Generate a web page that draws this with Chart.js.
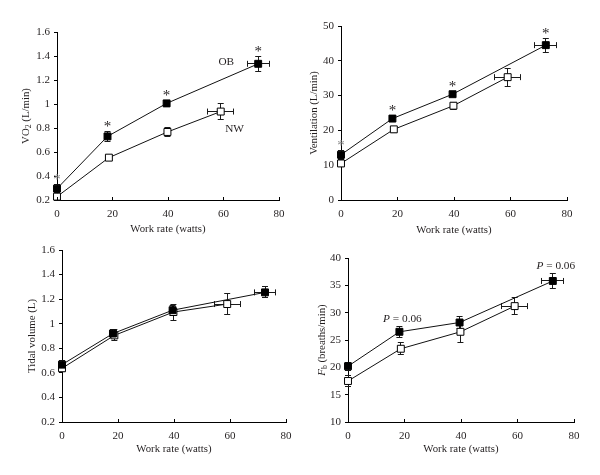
<!DOCTYPE html>
<html><head><meta charset="utf-8">
<script src="https://cdn.jsdelivr.net/npm/chart.js@4.4.0/dist/chart.umd.min.js"></script>
<style>
html,body{margin:0;padding:0;background:#fff;}
body{width:600px;height:475px;position:relative;overflow:hidden;}
canvas{position:absolute;display:block;}
</style></head><body>
<canvas id="c1" width="300" height="237" style="left:0;top:0"></canvas>
<canvas id="c2" width="300" height="237" style="left:300px;top:0"></canvas>
<canvas id="c3" width="300" height="238" style="left:0;top:237px"></canvas>
<canvas id="c4" width="300" height="238" style="left:300px;top:237px"></canvas>
<script>
// ---------------- data ----------------
const seriesNames = ['OB', 'NW'];
const xTicks = [0, 20, 40, 60, 80];
const workOB = [0, 18.2, 39.5, 72.5];
const workNW = [0, 18.7, 39.8, 59.0];
const workErrOB = [0, 0.8, 0.8, 3.9];
const workErrNW = [0, 0.8, 0.8, 4.6];

const vo2OB = [0.295, 0.73, 1.005, 1.335];
const vo2NW = [0.228, 0.553, 0.767, 0.937];
const vo2ErrOB = [0.035, 0.04, 0.025, 0.06];
const vo2ErrNW = [0.02, 0.02, 0.035, 0.065];

const veOB = [13.0, 23.4, 30.4, 44.5];
const veNW = [10.5, 20.3, 27.1, 35.3];
const veErrOB = [1.2, 0.9, 0.8, 2.0];
const veErrNW = [1.0, 0.8, 1.0, 2.6];

const vtOB = [0.667, 0.92, 1.11, 1.255];
const vtNW = [0.637, 0.905, 1.095, 1.16];
const vtErrOB = [0.03, 0.03, 0.04, 0.045];
const vtErrNW = [0.03, 0.045, 0.065, 0.085];

const fbOB = [20.2, 26.5, 28.2, 35.8];
const fbNW = [17.5, 23.4, 26.5, 31.2];
const fbErrOB = [0.7, 1.0, 1.1, 1.4];
const fbErrNW = [1.0, 1.1, 1.9, 1.6];

const xTitle = 'Work rate (watts)';
const yTitleVO2 = [['VO', ''], ['2', 'sub'], [' (L/min)', '']];
const yTitleVE = [['Ventilation (L/min)', '']];
const yTitleVT = [['Tidal volume (L)', '']];
const yTitleFB = [['F', 'italic'], ['b', 'sub'], [' (breaths/min)', '']];
const starIdxVO2 = [0, 1, 2, 3];
const starIdxVE = [0, 1, 2, 3];
const pNoteIdxFB = [1, 3];
const pNoteText = [['P', 'italic'], [' = 0.06', '']];

// ---------------- helpers ----------------
const FONT = '"Liberation Serif", "DejaVu Serif", serif';
const INK = '#231f20';

function pts(xs, ys) { return xs.map((x, i) => ({ x: x, y: ys[i] })); }

function drawRich(ctx, parts, x, y, size, align) {
  const fontFor = s => s === 'italic' ? `italic ${size}px ${FONT}` : s === 'sub' ? `${(size * 0.72).toFixed(1)}px ${FONT}` : `${size}px ${FONT}`;
  let w = 0;
  parts.forEach(([t, s]) => { ctx.font = fontFor(s); w += ctx.measureText(t).width; });
  let cx = align === 'center' ? x - w / 2 : x;
  ctx.textAlign = 'left'; ctx.textBaseline = 'alphabetic';
  parts.forEach(([t, s]) => {
    ctx.font = fontFor(s);
    ctx.fillText(t, cx, y + (s === 'sub' ? size * 0.25 : 0));
    cx += ctx.measureText(t).width;
  });
}

function line(ctx, x1, y1, x2, y2) {
  ctx.beginPath(); ctx.moveTo(x1, y1); ctx.lineTo(x2, y2); ctx.stroke();
}
const r5 = v => Math.round(v - 0.5) + 0.5;

const errPlugin = {
  id: 'errbars',
  beforeDatasetsDraw(chart) {
    const ctx = chart.ctx, xs = chart.scales.x, ys = chart.scales.y;
    ctx.save(); ctx.strokeStyle = '#1a1a1a'; ctx.lineWidth = 1;
    chart.data.datasets.forEach(ds => {
      ds.data.forEach((p, i) => {
        const px = xs.getPixelForValue(p.x), py = ys.getPixelForValue(p.y);
        const ye = ds.yErr ? ds.yErr[i] : 0, xe = ds.xErr ? ds.xErr[i] : 0, cap = 3;
        if (ye) {
          const t = ys.getPixelForValue(p.y + ye), b = ys.getPixelForValue(p.y - ye);
          line(ctx, r5(px), t, r5(px), b);
          line(ctx, px - cap, r5(t), px + cap, r5(t));
          line(ctx, px - cap, r5(b), px + cap, r5(b));
        }
        if (xe) {
          const l = xs.getPixelForValue(p.x - xe), r = xs.getPixelForValue(p.x + xe);
          line(ctx, l, r5(py), r, r5(py));
          line(ctx, r5(l), py - cap, r5(l), py + cap);
          line(ctx, r5(r), py - cap, r5(r), py + cap);
        }
      });
    });
    ctx.restore();
  }
};

function marksPlugin(cfg) {
  return {
    id: 'marks',
    afterDraw(chart) {
      const ctx = chart.ctx, xs = chart.scales.x, ys = chart.scales.y, a = chart.chartArea;
      ctx.save();
      ctx.fillStyle = INK;
      // x ticks (inward)
      ctx.strokeStyle = '#000'; ctx.lineWidth = 1;
      xTicks.forEach(v => { const px = r5(xs.getPixelForValue(v)); line(ctx, px, a.bottom, px, a.bottom - 3); });
      // axis titles
      drawRich(ctx, [[xTitle, '']], (a.left + a.right) / 2, a.bottom + cfg.xGap + 3.7, 10.8, 'center');
      ctx.save();
      ctx.translate(a.left - cfg.yGap, (a.top + a.bottom) / 2);
      ctx.rotate(-Math.PI / 2);
      drawRich(ctx, cfg.yTitle, 0, 3.7, 10.8, 'center');
      ctx.restore();
      // stars
      if (cfg.stars) {
        const ds = chart.data.datasets[0];
        cfg.stars.forEach(i => {
          const p = ds.data[i];
          const top = ys.getPixelForValue(p.y + ds.yErr[i]);
          ctx.fillStyle = i === 0 ? '#8a8a8a' : INK;
          ctx.font = `15px ${FONT}`; ctx.textAlign = 'center'; ctx.textBaseline = 'alphabetic';
          ctx.fillText('*', xs.getPixelForValue(p.x), top - 0.5);
        });
        ctx.fillStyle = INK;
      }
      // P notes
      if (cfg.notes) {
        const ds = chart.data.datasets[0];
        cfg.notes.forEach(i => {
          const p = ds.data[i];
          const top = ys.getPixelForValue(p.y + ds.yErr[i]);
          drawRich(ctx, pNoteText, xs.getPixelForValue(p.x) + 3, top - 4, 11.3, 'center');
        });
      }
      // series labels
      if (cfg.labels) {
        cfg.labels.forEach(l => {
          drawRich(ctx, [[l.text, '']], xs.getPixelForValue(l.x), ys.getPixelForValue(l.y) + 4, 11.3, 'center');
        });
      }
      ctx.restore();
    }
  };
}

function makeChart(id, o) {
  const datasets = [
    { label: seriesNames[0], data: pts(workOB, o.ob), yErr: o.obErr, xErr: workErrOB,
      borderColor: '#111', borderWidth: 1, backgroundColor: '#000', pointStyle: 'rect',
      pointRadius: 4.9, pointBorderColor: '#000', pointBackgroundColor: '#000', pointBorderWidth: 1, clip: false },
    { label: seriesNames[1], data: pts(workNW, o.nw), yErr: o.nwErr, xErr: workErrNW,
      borderColor: '#111', borderWidth: 1, backgroundColor: '#fff', pointStyle: 'rect',
      pointRadius: 4.9, pointBorderColor: '#000', pointBackgroundColor: '#fff', pointBorderWidth: 1, clip: false }
  ];
  return new Chart(document.getElementById(id), {
    type: 'line',
    data: { datasets },
    options: {
      responsive: false, animation: false, devicePixelRatio: 1,
      layout: { padding: o.pad },
      plugins: { legend: { display: false }, tooltip: { enabled: false } },
      elements: { line: { tension: 0 } },
      scales: {
        x: {
          type: 'linear', min: 0, max: 80,
          afterBuildTicks: s => { s.ticks = xTicks.map(v => ({ value: v })); },
          afterFit: s => { s.height = o.xh; },
          grid: { display: false, drawTicks: false, tickLength: 0 },
          border: { display: true, color: '#000', width: 1 },
          ticks: { color: INK, font: { family: FONT, size: 11 }, padding: 7.5, maxRotation: 0 }
        },
        y: {
          type: 'linear', min: o.ymin, max: o.ymax,
          ticks: { stepSize: o.step, color: INK, font: { family: FONT, size: 11 }, padding: 4,
                   callback: v => String(Math.round(v * 10) / 10) },
          afterFit: s => { s.width = o.yw; },
          grid: { display: true, drawOnChartArea: false, drawTicks: true, tickLength: 3, color: '#000' },
          border: { display: true, color: '#000', width: 1 }
        }
      }
    },
    plugins: [errPlugin, marksPlugin(o.marks)]
  });
}

makeChart('c1', { ob: vo2OB, nw: vo2NW, obErr: vo2ErrOB, nwErr: vo2ErrNW,
  ymin: 0.2, ymax: 1.6, step: 0.2, yw: 57, xh: 37, pad: { left: 0, right: 21, top: 32, bottom: 0 },
  marks: { yTitle: yTitleVO2, yGap: 32, xGap: 28, stars: starIdxVO2,
           labels: [{ text: 'OB', x: 61, y: 1.36 }, { text: 'NW', x: 64, y: 0.8 }] } });

makeChart('c2', { ob: veOB, nw: veNW, obErr: veErrOB, nwErr: veErrNW,
  ymin: 0, ymax: 50, step: 10, yw: 41, xh: 37, pad: { left: 0, right: 33, top: 26, bottom: 0 },
  marks: { yTitle: yTitleVE, yGap: 28, xGap: 29, stars: starIdxVE } });

makeChart('c3', { ob: vtOB, nw: vtNW, obErr: vtErrOB, nwErr: vtErrNW,
  ymin: 0.2, ymax: 1.6, step: 0.2, yw: 62, xh: 53, pad: { left: 0, right: 14, top: 13, bottom: 0 },
  marks: { yTitle: yTitleVT, yGap: 31, xGap: 26 } });

makeChart('c4', { ob: fbOB, nw: fbNW, obErr: fbErrOB, nwErr: fbErrNW,
  ymin: 10, ymax: 40, step: 5, yw: 48, xh: 53, pad: { left: 0, right: 26, top: 21, bottom: 0 },
  marks: { yTitle: yTitleFB, yGap: 27, xGap: 26, notes: pNoteIdxFB } });
</script>
</body></html>
